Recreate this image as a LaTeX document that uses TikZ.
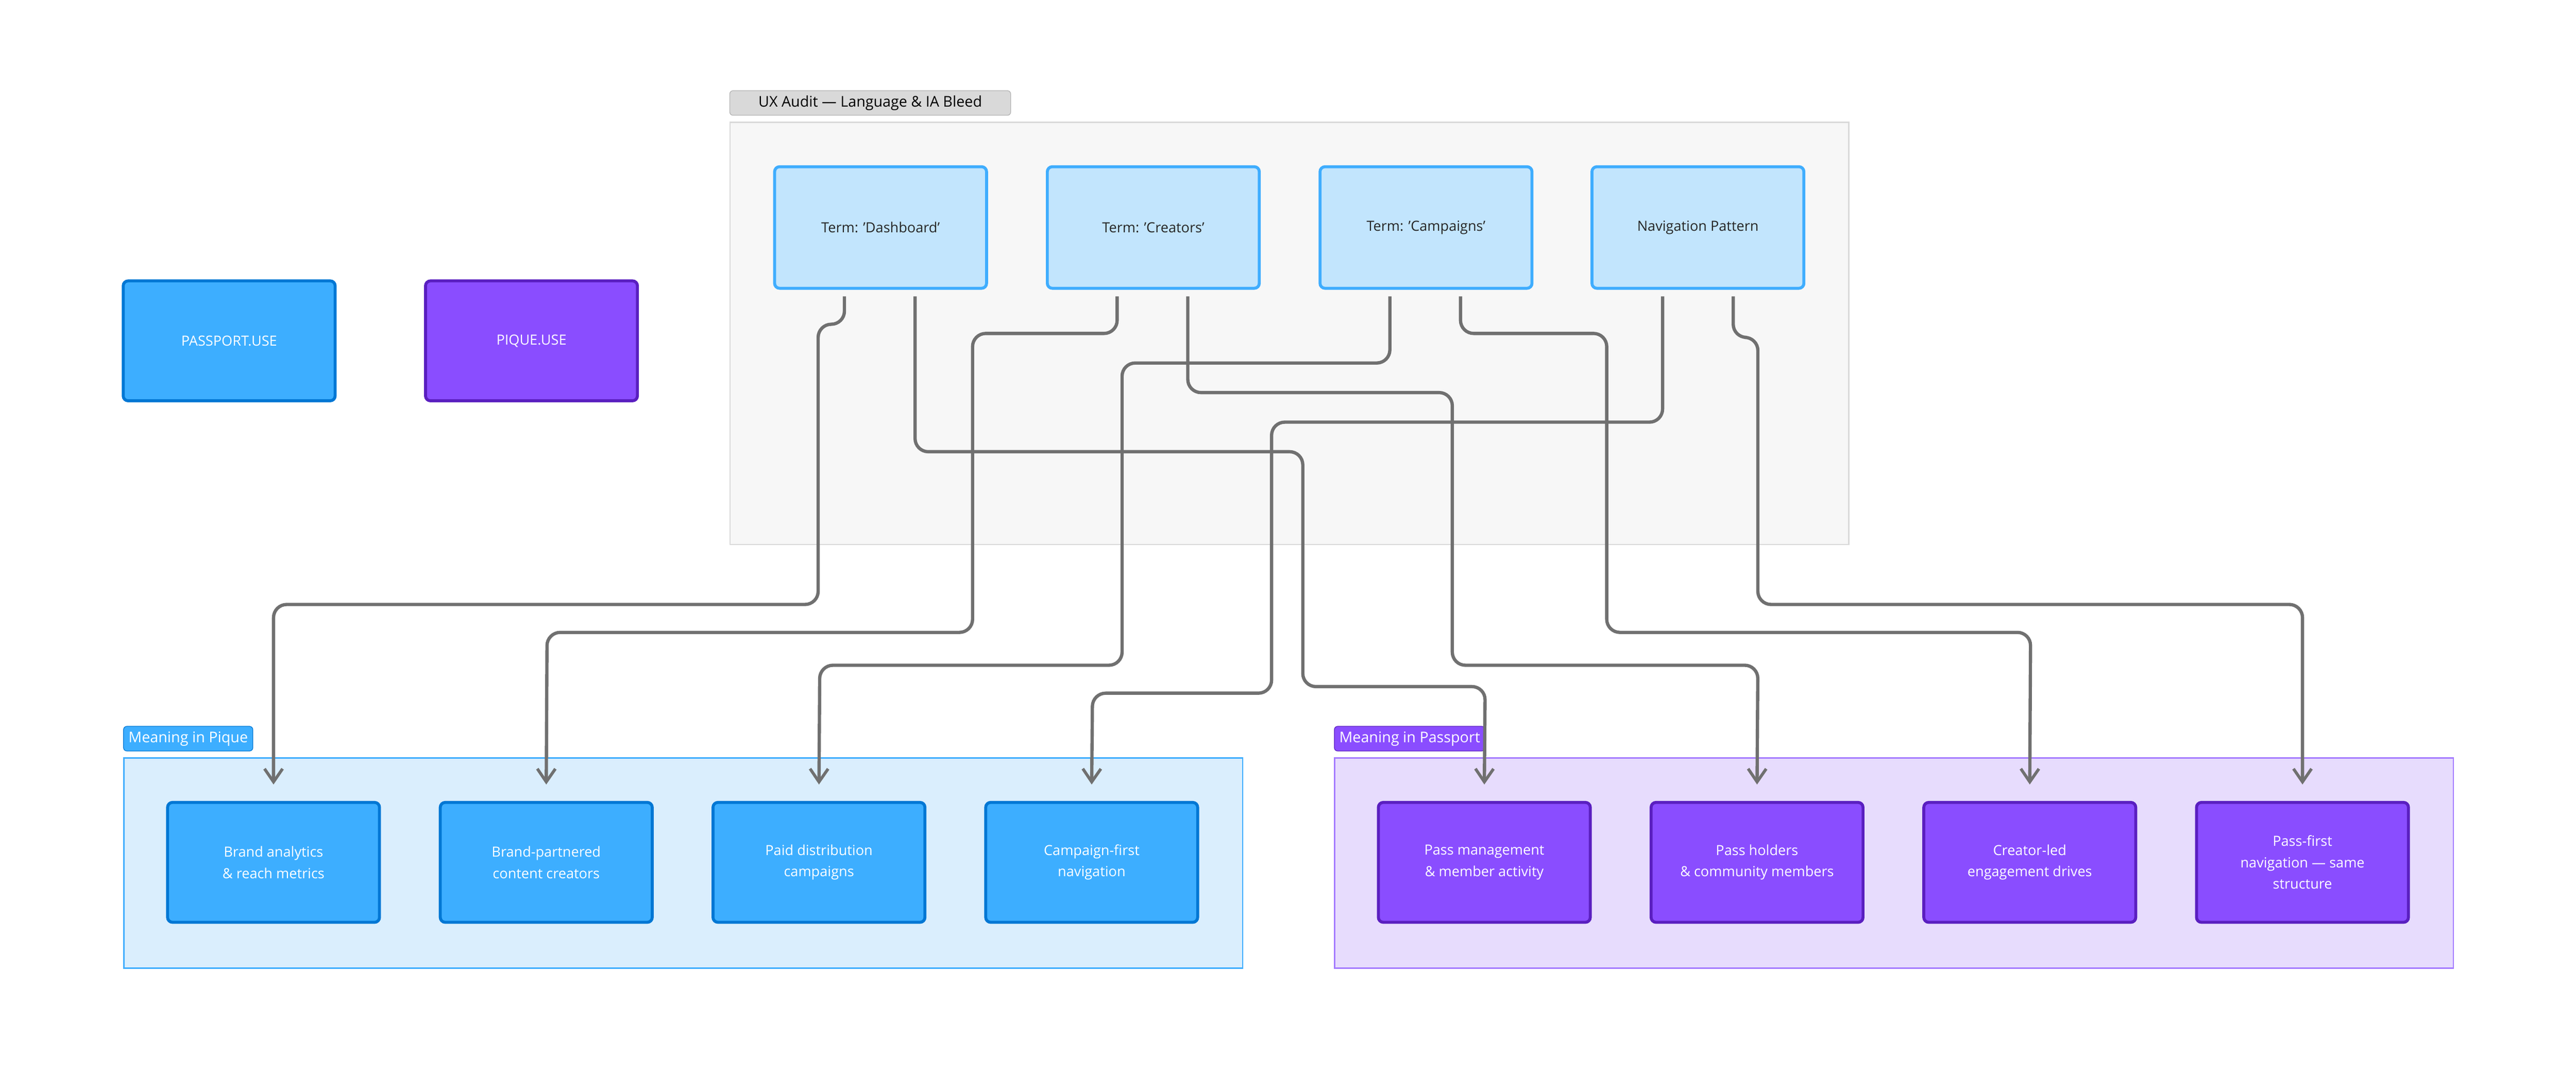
\documentclass[tikz,border=0pt]{standalone}
\usepackage{fontspec}
\setmainfont{Open Sans}
\usetikzlibrary{arrows.meta}
\definecolor{edgec}{HTML}{707070}
\definecolor{termfill}{HTML}{C2E5FD}
\definecolor{termdraw}{HTML}{3FADFE}
\definecolor{pqfill}{HTML}{3DAEFF}
\definecolor{pqdraw}{HTML}{0077D4}
\definecolor{psfill}{HTML}{8A4DFF}
\definecolor{psdraw}{HTML}{5A1FC0}
\definecolor{pqcl}{HTML}{DAEEFD}
\definecolor{pscl}{HTML}{E7DCFD}
\definecolor{pscldraw}{HTML}{A57CFF}
\tikzset{
  term/.style={draw=termdraw,fill=termfill,line width=1.8pt,rounded corners=3pt,minimum width=129pt,minimum height=74pt,font=\fontsize{8.5}{12}\selectfont,text=black!85},
  pq/.style={draw=pqdraw,fill=pqfill,line width=1.8pt,rounded corners=3pt,minimum width=129pt,minimum height=73pt,font=\fontsize{8.5}{13}\selectfont,text=white,align=center},
  ps/.style={pq,draw=psdraw,fill=psfill},
  lbl/.style={rounded corners=2pt,inner sep=3pt,font=\fontsize{9}{10}\selectfont,anchor=south west,minimum height=15pt},
  conn/.style={draw=edgec,line width=2pt,rounded corners=8pt,-{Straight Barb[length=8pt,width=11pt,line width=1.8pt]}},
}
\begin{document}
\begin{tikzpicture}[x=1pt,y=-1pt]
\useasboundingbox (0,0) rectangle (1568,664);
% clusters
\node[draw=black!15,fill=black!3,line width=0.8pt,minimum width=681pt,minimum height=257pt,anchor=north west,inner sep=0] (audit) at (444,74) {};
\node[lbl,draw=black!30,fill=black!15,text=black,minimum width=171pt,anchor=north west] (auditl) at (444,55) {UX Audit — Language \& IA Bleed};
\node[draw=termdraw,fill=pqcl,line width=0.8pt,minimum width=681pt,minimum height=128pt,anchor=north west,inner sep=0] (pique) at (75,461) {};
\node[lbl,draw=pqdraw,fill=pqfill,text=white,anchor=north west] (piquel) at (75,442) {Meaning in Pique};
\node[draw=pscldraw,fill=pscl,line width=0.8pt,minimum width=681pt,minimum height=128pt,anchor=north west,inner sep=0] (pass) at (812,461) {};
\node[lbl,draw=psdraw,fill=psfill,text=white,anchor=north west] (passl) at (812,442) {Meaning in Passport};
% legend
\node[pq] (leg1) at (139.5,207.5) {PASSPORT.USE};
\node[ps] (leg2) at (323.5,207.5) {PIQUE.USE};
% terms
\node[term] (t1) at (536,138.5) {Term: 'Dashboard'};
\node[term] (t2) at (702,138.5) {Term: 'Creators'};
\node[term] (t3) at (868,138.5) {Term: 'Campaigns'};
\node[term] (t4) at (1033.5,138.5) {Navigation Pattern};
% meanings
\node[pq] (m1) at (166.5,525) {Brand analytics\\\& reach metrics};
\node[pq] (m2) at (332.5,525) {Brand-partnered\\content creators};
\node[pq] (m3) at (498.5,525) {Paid distribution\\campaigns};
\node[pq] (m4) at (664.5,525) {Campaign-first\\navigation};
\node[ps] (p1) at (903.5,525) {Pass management\\\& member activity};
\node[ps] (p2) at (1069.5,525) {Pass holders\\\& community members};
\node[ps] (p3) at (1235.5,525) {Creator-led\\engagement drives};
\node[ps] (p4) at (1401.5,525) {Pass-first\\navigation — same\\structure};
% connectors
\draw[conn] ([xshift=-22pt,yshift=-4pt]t1.south) -- ++(0,17) -| (498,368) -| ([yshift=10pt]m1.north);
\draw[conn] ([xshift=21pt,yshift=-4pt]t1.south) |- (793,275) |- (904,418) -- ([yshift=10pt]p1.north);
\draw[conn] ([xshift=-22pt,yshift=-4pt]t2.south) |- (592,203) |- (333,385) -- ([yshift=10pt]m2.north);
\draw[conn] ([xshift=21pt,yshift=-4pt]t2.south) |- (884,239) |- (1070,405) -- ([yshift=10pt]p2.north);
\draw[conn] ([xshift=-22pt,yshift=-4pt]t3.south) |- (683,221) |- (499,405) -- ([yshift=10pt]m3.north);
\draw[conn] ([xshift=21pt,yshift=-4pt]t3.south) |- (978,203) |- (1236,385) -- ([yshift=10pt]p3.north);
\draw[conn] ([xshift=-21.5pt,yshift=-4pt]t4.south) |- (774,257) |- (665,422) -- ([yshift=10pt]m4.north);
\draw[conn] ([xshift=21.5pt,yshift=-4pt]t4.south) -- ++(0,25) -| (1070,368) -| ([yshift=10pt]p4.north);
\end{tikzpicture}
\end{document}
